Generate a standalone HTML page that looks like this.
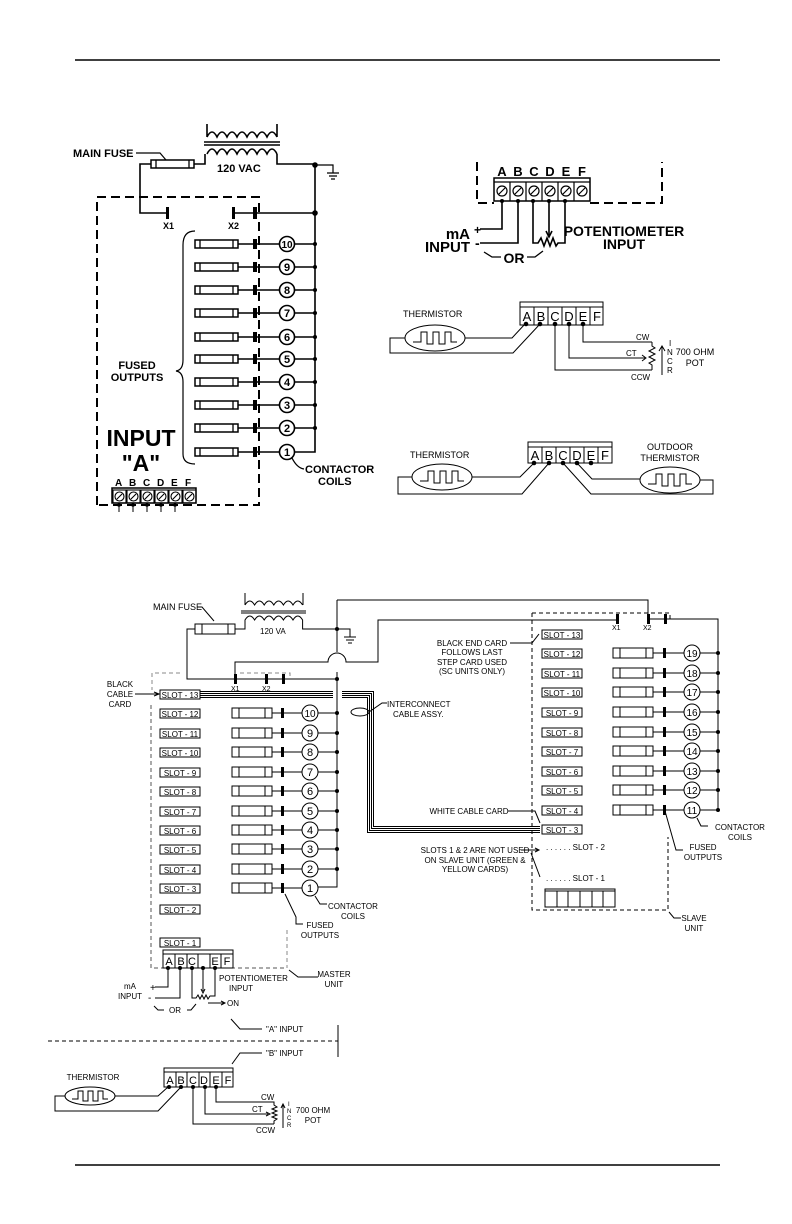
<!DOCTYPE html>
<html><head><meta charset="utf-8"><style>
html,body{margin:0;padding:0;background:#fff}
svg{display:block}
text{font-family:"Liberation Sans",sans-serif;fill:#000}
.b{font-weight:bold}
</style></head><body>
<svg width="792" height="1224" viewBox="0 0 792 1224" xmlns="http://www.w3.org/2000/svg" stroke="#000" fill="none" stroke-width="1">
<defs>
<g id="fa"><rect x="0" y="-4" width="43" height="8" fill="#fff" stroke-width="1.5"/><line x1="5" y1="-4" x2="5" y2="4" stroke-width="1.3"/><line x1="38" y1="-4" x2="38" y2="4" stroke-width="1.3"/></g>
<g id="fb"><rect x="0" y="-5" width="40" height="10" fill="#fff"/><line x1="7" y1="-5" x2="7" y2="5"/><line x1="33" y1="-5" x2="33" y2="5"/></g>
<g id="th"><ellipse cx="0" cy="0" rx="30" ry="13"/><path d="M-22 4 H-14 V-6 H-8 V6 H-2 V-6 H4 V6 H10 V-6 H16 V4 H22"/></g>
<g id="th2"><ellipse cx="0" cy="0" rx="25" ry="9"/><path d="M-18 3 H-12 V-5 H-7 V5 H-2 V-5 H3 V5 H8 V-5 H13 V3 H18"/></g>
</defs>

<line x1="75" y1="60" x2="720" y2="60" stroke-width="1.5"/>
<line x1="75" y1="1165" x2="720" y2="1165" stroke-width="1.5"/>

<!-- ===== TOP LEFT ===== -->
<g stroke-width="1.6">
<text x="73" y="157" class="b" font-size="11" stroke="none">MAIN  FUSE</text>
<path d="M136 153 H160 L166 160" stroke-width="1.2"/>
<use href="#fa" x="151" y="164"/>
<path d="M207 137 q5 -10 10 0 q5 -10 10 0 q5 -10 10 0 q5 -10 10 0 q5 -10 10 0 q5 -10 10 0 q5 -10 10 0 M207 137 V124 M277 137 V124"/>
<line x1="204" y1="142" x2="280" y2="142"/><line x1="204" y1="145" x2="280" y2="145"/>
<path d="M207 154 q5 -10 10 0 q5 -10 10 0 q5 -10 10 0 q5 -10 10 0 q5 -10 10 0 q5 -10 10 0 q5 -10 10 0"/>
<path d="M194 164 H205 V154 M277 154 V164 H315 V452 H294"/>
<text x="217" y="172" class="b" font-size="11" stroke="none">120  VAC</text>
<path d="M315 165 H333 V173 M327 173 H339 M329 176 H337 M331 179 H335" stroke-width="1.2"/>
<path d="M151 164 H140 V213 H167"/>
<rect x="166" y="207" width="3" height="12" fill="#000" stroke="none"/>
<rect x="232" y="207" width="3" height="12" fill="#000" stroke="none"/>
<rect x="253" y="207" width="4" height="12" fill="#000" stroke="none"/>
<line x1="233" y1="213" x2="315" y2="213"/>
<text x="163" y="229" class="b" font-size="9" stroke="none">X1</text>
<text x="228" y="229" class="b" font-size="9" stroke="none">X2</text>
<path d="M97 505 V197 H259 V212 M259 222 V505 H97" stroke-dasharray="9,5" stroke-width="2"/>
<circle cx="315" cy="165" r="2" fill="#000"/><circle cx="315" cy="213" r="2" fill="#000"/>
<path d="M195 231 Q183 231 183 245 V360 Q183 370 176 371 Q183 372 183 382 V454 Q183 464 195 464" stroke-width="1.2"/>
<text x="137" y="369" class="b" font-size="11" stroke="none" text-anchor="middle">FUSED</text>
<text x="137" y="381" class="b" font-size="11" stroke="none" text-anchor="middle">OUTPUTS</text>
<use href="#fa" x="195" y="244"/><use href="#fa" x="195" y="267"/><use href="#fa" x="195" y="290"/><use href="#fa" x="195" y="313"/><use href="#fa" x="195" y="337"/><use href="#fa" x="195" y="359"/><use href="#fa" x="195" y="382"/><use href="#fa" x="195" y="405"/><use href="#fa" x="195" y="428"/><use href="#fa" x="195" y="452"/>
<path d="M238 244 H280 M295 244 H315 M238 267 H280 M295 267 H315 M238 290 H280 M295 290 H315 M238 313 H280 M295 313 H315 M238 337 H280 M295 337 H315 M238 359 H280 M295 359 H315 M238 382 H280 M295 382 H315 M238 405 H280 M295 405 H315 M238 428 H280 M295 428 H315 M238 452 H280"/>
<circle cx="287" cy="244" r="7.5" fill="#fff"/><circle cx="287" cy="267" r="7.5" fill="#fff"/><circle cx="287" cy="290" r="7.5" fill="#fff"/><circle cx="287" cy="313" r="7.5" fill="#fff"/><circle cx="287" cy="337" r="7.5" fill="#fff"/><circle cx="287" cy="359" r="7.5" fill="#fff"/><circle cx="287" cy="382" r="7.5" fill="#fff"/><circle cx="287" cy="405" r="7.5" fill="#fff"/><circle cx="287" cy="428" r="7.5" fill="#fff"/><circle cx="287" cy="452" r="7.5" fill="#fff"/>
</g>
<g fill="#000" stroke="none">
<rect x="253" y="239" width="4" height="10"/><rect x="253" y="262" width="4" height="10"/><rect x="253" y="285" width="4" height="10"/><rect x="253" y="308" width="4" height="10"/><rect x="253" y="332" width="4" height="10"/><rect x="253" y="354" width="4" height="10"/><rect x="253" y="377" width="4" height="10"/><rect x="253" y="400" width="4" height="10"/><rect x="253" y="423" width="4" height="10"/><rect x="253" y="447" width="4" height="10"/>
<circle cx="315" cy="244" r="2"/><circle cx="315" cy="267" r="2"/><circle cx="315" cy="290" r="2"/><circle cx="315" cy="313" r="2"/><circle cx="315" cy="337" r="2"/><circle cx="315" cy="359" r="2"/><circle cx="315" cy="382" r="2"/><circle cx="315" cy="405" r="2"/><circle cx="315" cy="428" r="2"/>
</g>
<g class="b" font-size="11" stroke="none" text-anchor="middle">
<text x="287" y="248" font-size="10">10</text><text x="287" y="271">9</text><text x="287" y="294">8</text><text x="287" y="317">7</text><text x="287" y="341">6</text><text x="287" y="363">5</text><text x="287" y="386">4</text><text x="287" y="409">3</text><text x="287" y="432">2</text><text x="287" y="456">1</text>
</g>
<path d="M292 458 Q297 468 304 469" stroke-width="1.3"/>
<text x="305" y="473" class="b" font-size="11" stroke="none">CONTACTOR</text>
<text x="318" y="485" class="b" font-size="11" stroke="none">COILS</text>
<text x="141" y="446" class="b" font-size="23" stroke="none" text-anchor="middle">INPUT</text>
<text x="141" y="471" class="b" font-size="23" stroke="none" text-anchor="middle">"A"</text>
<rect x="112" y="488" width="84" height="15" fill="#fff" stroke-width="1.5"/>
<g class="b" font-size="10" stroke="none"><text x="115" y="486">A</text><text x="129" y="486">B</text><text x="143" y="486">C</text><text x="157" y="486">D</text><text x="171" y="486">E</text><text x="185" y="486">F</text></g>
<g stroke-width="1.1"><rect x="113" y="490" width="13" height="13"/><rect x="127" y="490" width="13" height="13"/><rect x="141" y="490" width="13" height="13"/><rect x="155" y="490" width="13" height="13"/><rect x="169" y="490" width="13" height="13"/><rect x="183" y="490" width="13" height="13"/>
<circle cx="119.5" cy="496.5" r="4.5"/><circle cx="133.5" cy="496.5" r="4.5"/><circle cx="147.5" cy="496.5" r="4.5"/><circle cx="161.5" cy="496.5" r="4.5"/><circle cx="175.5" cy="496.5" r="4.5"/><circle cx="189.5" cy="496.5" r="4.5"/>
<path d="M117 499 L122 494 M131 499 L136 494 M145 499 L150 494 M159 499 L164 494 M173 499 L178 494 M187 499 L192 494"/></g>
<path d="M119 503 V512 M133 503 V512 M147 503 V512 M161 503 V512 M175 503 V512"/>
<g fill="#000" stroke="none"><circle cx="119" cy="505" r="1.8"/><circle cx="133" cy="505" r="1.8"/><circle cx="147" cy="505" r="1.8"/><circle cx="161" cy="505" r="1.8"/><circle cx="175" cy="505" r="1.8"/></g>

<!-- ===== TOP RIGHT 1 ===== -->
<path d="M477 162 V203 H494 M590 203 H662 V162" stroke-dasharray="9,5" stroke-width="2"/>
<rect x="494" y="178" width="96" height="23" fill="#fff" stroke-width="1.5"/>
<line x1="494" y1="182" x2="590" y2="182" stroke-width="1.3"/>
<g stroke-width="1.2"><line x1="510" y1="182" x2="510" y2="201"/><line x1="526" y1="182" x2="526" y2="201"/><line x1="542" y1="182" x2="542" y2="201"/><line x1="558" y1="182" x2="558" y2="201"/><line x1="574" y1="182" x2="574" y2="201"/>
<circle cx="502" cy="191" r="5"/><circle cx="518" cy="191" r="5"/><circle cx="534" cy="191" r="5"/><circle cx="550" cy="191" r="5"/><circle cx="566" cy="191" r="5"/><circle cx="582" cy="191" r="5"/>
<path d="M499 194 L505 188 M515 194 L521 188 M531 194 L537 188 M547 194 L553 188 M563 194 L569 188 M579 194 L585 188"/></g>
<g class="b" font-size="13" stroke="none" text-anchor="middle"><text x="502" y="176">A</text><text x="518" y="176">B</text><text x="534" y="176">C</text><text x="550" y="176">D</text><text x="566" y="176">E</text><text x="582" y="176">F</text></g>
<g stroke-width="1.6">
<path d="M502 201 V229 H480 M518 201 V243 H480 M533 201 V243 H538 l3 -5 l3 8 l3 -8 l3 8 l3 -8 l3 8 l2 -3 H565 V201 M549 201 V235"/>
<path d="M546 231 L549 237 L552 231"/>
</g>
<g fill="#000" stroke="none"><circle cx="502" cy="201" r="2"/><circle cx="518" cy="201" r="2"/><circle cx="533" cy="201" r="2"/><circle cx="549" cy="201" r="2"/><circle cx="565" cy="201" r="2"/></g>
<text x="474" y="234" class="b" font-size="12" stroke="none">+</text>
<text x="475" y="248" class="b" font-size="14" stroke="none">-</text>
<text x="470" y="239" class="b" font-size="15" stroke="none" text-anchor="end">mA</text>
<text x="470" y="252" class="b" font-size="15" stroke="none" text-anchor="end">INPUT</text>
<text x="624" y="236" class="b" font-size="14" stroke="none" text-anchor="middle">POTENTIOMETER</text>
<text x="624" y="249" class="b" font-size="14" stroke="none" text-anchor="middle">INPUT</text>
<text x="514" y="263" class="b" font-size="14" stroke="none" text-anchor="middle">OR</text>
<path d="M501 257 H492 L484 252 M527 257 H535 L543 251" stroke-width="1.3"/>

<!-- ===== TOP RIGHT 2 ===== -->
<rect x="520" y="302" width="83" height="23" fill="#fff"/>
<line x1="520" y1="307" x2="603" y2="307"/>
<g><line x1="534" y1="307" x2="534" y2="325"/><line x1="548" y1="307" x2="548" y2="325"/><line x1="562" y1="307" x2="562" y2="325"/><line x1="576" y1="307" x2="576" y2="325"/><line x1="590" y1="307" x2="590" y2="325"/></g>
<g font-size="13" stroke="none" text-anchor="middle"><text x="527" y="321">A</text><text x="541" y="321">B</text><text x="555" y="321">C</text><text x="569" y="321">D</text><text x="583" y="321">E</text><text x="597" y="321">F</text></g>
<text x="403" y="317" font-size="9" stroke="none">THERMISTOR</text>
<use href="#th" x="435" y="338"/>
<path d="M465 338 H512 L525 324 M405 338 H390 V353 H513 L540 324 M555 324 V370 H652 M569 324 V358 H645 M583 324 V342 H652 M652 342 V346 l3 2 l-6 3 l6 3 l-6 3 l6 3 l-6 3 l3 2 V370"/>
<path d="M642 355 L646 358 L642 361"/>
<path d="M662 375 V346 M659 351 L662 346 L665 351"/>
<g fill="#000" stroke="none"><circle cx="526" cy="324" r="2.3"/><circle cx="540" cy="324" r="2.3"/><circle cx="555" cy="324" r="2.3"/><circle cx="569" cy="324" r="2.3"/><circle cx="583" cy="324" r="2.3"/></g>
<g font-size="8" stroke="none"><text x="636" y="340">CW</text><text x="626" y="356">CT</text><text x="631" y="380">CCW</text><text x="669" y="346">I</text><text x="667" y="355">N</text><text x="667" y="364">C</text><text x="667" y="373">R</text>
<text x="695" y="355" text-anchor="middle" font-size="9">700 OHM</text><text x="695" y="366" text-anchor="middle" font-size="9">POT</text></g>

<!-- ===== TOP RIGHT 3 ===== -->
<rect x="528" y="442" width="84" height="21" fill="#fff"/>
<line x1="528" y1="447" x2="612" y2="447"/>
<g><line x1="542" y1="447" x2="542" y2="463"/><line x1="556" y1="447" x2="556" y2="463"/><line x1="570" y1="447" x2="570" y2="463"/><line x1="584" y1="447" x2="584" y2="463"/><line x1="598" y1="447" x2="598" y2="463"/></g>
<g font-size="13" stroke="none" text-anchor="middle"><text x="535" y="460">A</text><text x="549" y="460">B</text><text x="563" y="460">C</text><text x="577" y="460">D</text><text x="591" y="460">E</text><text x="605" y="460">F</text></g>
<text x="410" y="458" font-size="9" stroke="none">THERMISTOR</text>
<use href="#th" x="442" y="477"/>
<use href="#th" x="670" y="480"/>
<text x="670" y="450" font-size="9" stroke="none" text-anchor="middle">OUTDOOR</text>
<text x="670" y="461" font-size="9" stroke="none" text-anchor="middle">THERMISTOR</text>
<path d="M472 477 H520 L534 463 M412 477 H398 V494 H522 L549 463 M563 463 L591 494 H713 V480 H700 M577 463 L592 479 H640"/>
<g fill="#000" stroke="none"><circle cx="534" cy="463" r="2.3"/><circle cx="549" cy="463" r="2.3"/><circle cx="563" cy="463" r="2.3"/><circle cx="577" cy="463" r="2.3"/><circle cx="591" cy="463" r="2.3"/></g>

<!-- ===== BOTTOM MASTER ===== -->
<text x="153" y="610" font-size="9" stroke="none">MAIN FUSE</text>
<path d="M197 607 H202 L214 621"/>
<use href="#fb" x="195" y="629"/>
<path d="M245 605 V593 M303 605 V593 M245 605 q4.8 -8 9.6 0 q4.8 -8 9.6 0 q4.8 -8 9.6 0 q4.8 -8 9.6 0 q4.8 -8 9.6 0 q4.8 -8 9.6 0"/>
<line x1="241" y1="611" x2="306" y2="611"/><line x1="241" y1="613" x2="306" y2="613"/>
<path d="M245 626 V620 q4.8 -8 9.6 0 q4.8 -8 9.6 0 q4.8 -8 9.6 0 q4.8 -8 9.6 0 q4.8 -8 9.6 0 q4.8 -8 9.6 0 V629 H337"/>
<path d="M235 629 H245 V626"/>
<text x="260" y="634" font-size="8" stroke="none">120 VA</text>
<path d="M337 629 H350 V637 M344 637 H356 M346 640 H354 M348 643 H352"/>
<path d="M195 629 H187 V679 H337"/>
<path d="M337 600 V652 M337 672 V887 H318 M337 600 H648 V619"/>
<path d="M235 679 V662 H328 A9 9 0 0 1 346 662 H378 V620 H617 V619"/>
<path d="M648 619 H718 V810 H700"/>
<rect x="234" y="674" width="3" height="10" fill="#000" stroke="none"/>
<rect x="265" y="674" width="3" height="10" fill="#000" stroke="none"/>
<rect x="282" y="674" width="3" height="10" fill="#000" stroke="none"/>
<text x="231" y="691" font-size="7" stroke="none">X1</text>
<text x="262" y="691" font-size="7" stroke="none">X2</text>
<path d="M180 673 H152 V690 M240 673 H290 V677 M287 930 V968" stroke="#888" stroke-dasharray="4,3"/>
<path d="M151 705 V968 H287" stroke="#555" stroke-dasharray="4,3"/>
<g fill="#000" stroke="none"><circle cx="337" cy="629" r="2"/><circle cx="337" cy="679" r="2"/></g>
<text x="120" y="687" font-size="8" stroke="none" text-anchor="middle">BLACK</text>
<text x="120" y="697" font-size="8" stroke="none" text-anchor="middle">CABLE</text>
<text x="120" y="707" font-size="8" stroke="none" text-anchor="middle">CARD</text>
<path d="M135 694 H158 M154 692 L159 694 L154 696"/>
<g stroke-width="1" shape-rendering="crispEdges"><path d="M200 691.5 H333 M200 693.5 H333 M200 695.5 H333 M200 697.5 H333"/>
<path d="M342 691.5 H373.5 V826.5 H540 M342 693.5 H371.5 V828.5 H540 M342 695.5 H369.5 V830.5 H540 M342 697.5 H367.5 V832.5 H540"/></g>
<ellipse cx="360" cy="712" rx="9" ry="4"/>
<path d="M369 712 L382 703 H387"/>
<text x="387" y="707" font-size="8" stroke="none">INTERCONNECT</text>
<text x="393" y="717" font-size="8" stroke="none">CABLE ASSY.</text>
<g font-size="8" stroke="none">
<g stroke="#000" fill="#fff"><rect x="160" y="690" width="40" height="9"/><rect x="160" y="709" width="40" height="9"/><rect x="160" y="729" width="40" height="9"/><rect x="160" y="748" width="40" height="9"/><rect x="160" y="768" width="40" height="9"/><rect x="160" y="787" width="40" height="9"/><rect x="160" y="807" width="40" height="9"/><rect x="160" y="826" width="40" height="9"/><rect x="160" y="845" width="40" height="9"/><rect x="160" y="865" width="40" height="9"/><rect x="160" y="884" width="40" height="9"/><rect x="160" y="905" width="40" height="9"/><rect x="160" y="938" width="40" height="9"/></g>
<g text-anchor="middle"><text x="180" y="698">SLOT - 13</text><text x="180" y="717">SLOT - 12</text><text x="180" y="737">SLOT - 11</text><text x="180" y="756">SLOT - 10</text><text x="180" y="776">SLOT - 9</text><text x="180" y="795">SLOT - 8</text><text x="180" y="815">SLOT - 7</text><text x="180" y="834">SLOT - 6</text><text x="180" y="853">SLOT - 5</text><text x="180" y="873">SLOT - 4</text><text x="180" y="892">SLOT - 3</text><text x="180" y="913">SLOT - 2</text><text x="180" y="946">SLOT - 1</text></g>
</g>
<use href="#fb" x="232" y="713"/><use href="#fb" x="232" y="733"/><use href="#fb" x="232" y="752"/><use href="#fb" x="232" y="772"/><use href="#fb" x="232" y="791"/><use href="#fb" x="232" y="811"/><use href="#fb" x="232" y="830"/><use href="#fb" x="232" y="849"/><use href="#fb" x="232" y="869"/><use href="#fb" x="232" y="888"/>
<path d="M272 713 H302 M318 713 H337 M272 733 H302 M318 733 H337 M272 752 H302 M318 752 H337 M272 772 H302 M318 772 H337 M272 791 H302 M318 791 H337 M272 811 H302 M318 811 H337 M272 830 H302 M318 830 H337 M272 849 H302 M318 849 H337 M272 869 H302 M318 869 H337 M272 888 H302"/>
<g fill="#fff"><circle cx="310" cy="713" r="8"/><circle cx="310" cy="733" r="8"/><circle cx="310" cy="752" r="8"/><circle cx="310" cy="772" r="8"/><circle cx="310" cy="791" r="8"/><circle cx="310" cy="811" r="8"/><circle cx="310" cy="830" r="8"/><circle cx="310" cy="849" r="8"/><circle cx="310" cy="869" r="8"/><circle cx="310" cy="888" r="8"/></g>
<g fill="#000" stroke="none">
<rect x="281" y="708" width="3" height="10"/><rect x="281" y="728" width="3" height="10"/><rect x="281" y="747" width="3" height="10"/><rect x="281" y="767" width="3" height="10"/><rect x="281" y="786" width="3" height="10"/><rect x="281" y="806" width="3" height="10"/><rect x="281" y="825" width="3" height="10"/><rect x="281" y="844" width="3" height="10"/><rect x="281" y="864" width="3" height="10"/><rect x="281" y="883" width="3" height="10"/>
<circle cx="337" cy="713" r="2"/><circle cx="337" cy="733" r="2"/><circle cx="337" cy="752" r="2"/><circle cx="337" cy="772" r="2"/><circle cx="337" cy="791" r="2"/><circle cx="337" cy="811" r="2"/><circle cx="337" cy="830" r="2"/><circle cx="337" cy="849" r="2"/><circle cx="337" cy="869" r="2"/>
</g>
<g font-size="11" stroke="none" text-anchor="middle"><text x="310" y="717" font-size="10">10</text><text x="310" y="737">9</text><text x="310" y="756">8</text><text x="310" y="776">7</text><text x="310" y="795">6</text><text x="310" y="815">5</text><text x="310" y="834">4</text><text x="310" y="853">3</text><text x="310" y="873">2</text><text x="310" y="892">1</text></g>
<path d="M315 896 L320 904 H327"/>
<text x="328" y="909" font-size="8" stroke="none">CONTACTOR</text>
<text x="341" y="919" font-size="8" stroke="none">COILS</text>
<path d="M285 894 L296 917 V924 H303"/>
<text x="320" y="928" font-size="8" stroke="none" text-anchor="middle">FUSED</text>
<text x="320" y="938" font-size="8" stroke="none" text-anchor="middle">OUTPUTS</text>
<path d="M289 970 L298 977 H318"/>
<text x="334" y="977" font-size="8" stroke="none" text-anchor="middle">MASTER</text>
<text x="334" y="987" font-size="8" stroke="none" text-anchor="middle">UNIT</text>
<!-- master terminal -->
<rect x="163" y="950" width="70" height="18" fill="#fff"/>
<line x1="163" y1="954" x2="233" y2="954"/>
<path d="M175 954 V968 M187 954 V968 M198 954 V968 M210 954 V968 M221 954 V968"/>
<g font-size="11" stroke="none" text-anchor="middle"><text x="169" y="965">A</text><text x="181" y="965">B</text><text x="192" y="965">C</text><text x="215" y="965">E</text><text x="227" y="965">F</text></g>
<path d="M168 968 V987 H155 M180 968 V998 H155 M192 968 V998 H196 l2 -3 l2 4 l2 -4 l2 4 l2 -4 l2 4 l2 -3 H215 V968 M203 968 V991 M201 989 L203 993 L205 989 M208 1003 H224 M221 1001 L225 1003 L221 1005"/>
<g fill="#000" stroke="none"><circle cx="168" cy="968" r="2"/><circle cx="180" cy="968" r="2"/><circle cx="192" cy="968" r="2"/><circle cx="203" cy="968" r="2"/><circle cx="215" cy="968" r="2"/></g>
<text x="150" y="991" font-size="10" stroke="none">+</text>
<text x="148" y="1001" font-size="10" stroke="none">-</text>
<text x="130" y="989" font-size="8" stroke="none" text-anchor="middle">mA</text>
<text x="130" y="999" font-size="8" stroke="none" text-anchor="middle">INPUT</text>
<text x="219" y="981" font-size="8" stroke="none">POTENTIOMETER</text>
<text x="241" y="991" font-size="8" stroke="none" text-anchor="middle">INPUT</text>
<text x="227" y="1006" font-size="8" stroke="none">ON</text>
<text x="175" y="1013" font-size="8" stroke="none" text-anchor="middle">OR</text>
<path d="M164 1010 H158 L154 1006 M187 1010 H191 L196 1004"/>
<path d="M231 1019 L240 1029 H262"/>
<text x="266" y="1032" font-size="8" stroke="none">"A" INPUT</text>
<path d="M48 1041 H338" stroke-dasharray="4,3"/>
<line x1="338" y1="1025" x2="338" y2="1057"/>
<text x="266" y="1056" font-size="8" stroke="none">"B" INPUT</text>
<path d="M262 1053 H240 L232 1064"/>
<!-- B terminal -->
<rect x="164" y="1068" width="69" height="19" fill="#fff"/>
<line x1="164" y1="1072" x2="233" y2="1072"/>
<path d="M176 1072 V1087 M187 1072 V1087 M199 1072 V1087 M210 1072 V1087 M222 1072 V1087"/>
<g font-size="11" stroke="none" text-anchor="middle"><text x="170" y="1084">A</text><text x="181" y="1084">B</text><text x="193" y="1084">C</text><text x="204" y="1084">D</text><text x="216" y="1084">E</text><text x="228" y="1084">F</text></g>
<text x="93" y="1080" font-size="8" stroke="none" text-anchor="middle">THERMISTOR</text>
<use href="#th2" x="90" y="1096"/>
<path d="M115 1096 H158 L168 1087 M65 1096 H55 V1111 H158 L181 1087 M193 1087 V1124 H274 M205 1087 V1114 H268 M216 1087 V1102 H274 V1105 l3 2 l-5 2 l5 2 l-5 2 l5 2 l-5 2 l5 2 l-3 2 V1124"/>
<path d="M266 1112 L270 1114 L266 1116"/>
<path d="M283 1128 V1104 M281 1108 L283 1104 L285 1108"/>
<g fill="#000" stroke="none"><circle cx="169" cy="1087" r="2"/><circle cx="181" cy="1087" r="2"/><circle cx="193" cy="1087" r="2"/><circle cx="205" cy="1087" r="2"/><circle cx="216" cy="1087" r="2"/></g>
<g font-size="8" stroke="none"><text x="261" y="1100">CW</text><text x="252" y="1112">CT</text><text x="256" y="1133">CCW</text>
<text x="288" y="1106" font-size="6">I</text><text x="287" y="1113" font-size="6">N</text><text x="287" y="1120" font-size="6">C</text><text x="287" y="1127" font-size="6">R</text>
<text x="313" y="1113" text-anchor="middle">700 OHM</text><text x="313" y="1123" text-anchor="middle">POT</text></g>

<!-- ===== SLAVE ===== -->
<path d="M532 613 V910 H668 V837 M532 613 H670 V619" stroke-dasharray="4,3"/>
<rect x="616" y="614" width="3" height="10" fill="#000" stroke="none"/>
<rect x="647" y="614" width="3" height="10" fill="#000" stroke="none"/>
<rect x="664" y="614" width="3" height="10" fill="#000" stroke="none"/>
<text x="612" y="630" font-size="7" stroke="none">X1</text>
<text x="643" y="630" font-size="7" stroke="none">X2</text>
<g font-size="8" stroke="none">
<g stroke="#000" fill="#fff"><rect x="542" y="630" width="40" height="9"/><rect x="542" y="649" width="40" height="9"/><rect x="542" y="669" width="40" height="9"/><rect x="542" y="688" width="40" height="9"/><rect x="542" y="708" width="40" height="9"/><rect x="542" y="728" width="40" height="9"/><rect x="542" y="747" width="40" height="9"/><rect x="542" y="767" width="40" height="9"/><rect x="542" y="786" width="40" height="9"/><rect x="542" y="806" width="40" height="9"/><rect x="542" y="825" width="40" height="9"/></g>
<g text-anchor="middle"><text x="562" y="638">SLOT - 13</text><text x="562" y="657">SLOT - 12</text><text x="562" y="677">SLOT - 11</text><text x="562" y="696">SLOT - 10</text><text x="562" y="716">SLOT - 9</text><text x="562" y="736">SLOT - 8</text><text x="562" y="755">SLOT - 7</text><text x="562" y="775">SLOT - 6</text><text x="562" y="794">SLOT - 5</text><text x="562" y="814">SLOT - 4</text><text x="562" y="833">SLOT - 3</text></g>
<text x="546" y="850">. . . . . .   SLOT - 2</text>
<text x="546" y="881">. . . . . .   SLOT - 1</text>
<g text-anchor="middle"><text x="472" y="646">BLACK END CARD</text><text x="472" y="655">FOLLOWS LAST</text><text x="472" y="665">STEP CARD USED</text><text x="472" y="674">(SC UNITS ONLY)</text>
<text x="469" y="814">WHITE CABLE CARD</text>
<text x="475" y="853">SLOTS 1 &amp; 2 ARE NOT USED</text><text x="475" y="863">ON SLAVE UNIT (GREEN &amp;</text><text x="475" y="872">YELLOW CARDS)</text>
<text x="740" y="830">CONTACTOR</text><text x="740" y="840">COILS</text>
<text x="703" y="850">FUSED</text><text x="703" y="860">OUTPUTS</text>
<text x="694" y="921">SLAVE</text><text x="694" y="931">UNIT</text></g>
</g>
<path d="M510 643 H532 L539 634 M508 811 H535 L540 823 M521 850 H538 M535 848 L539 850 L535 852 M531 853 L540 877 M665 811 L676 850 H683 M697 818 L701 826 H708 M669 912 L674 918 H681"/>
<use href="#fb" x="613" y="653"/><use href="#fb" x="613" y="673"/><use href="#fb" x="613" y="692"/><use href="#fb" x="613" y="712"/><use href="#fb" x="613" y="732"/><use href="#fb" x="613" y="751"/><use href="#fb" x="613" y="771"/><use href="#fb" x="613" y="790"/><use href="#fb" x="613" y="810"/>
<path d="M653 653 H684 M700 653 H718 M653 673 H684 M700 673 H718 M653 692 H684 M700 692 H718 M653 712 H684 M700 712 H718 M653 732 H684 M700 732 H718 M653 751 H684 M700 751 H718 M653 771 H684 M700 771 H718 M653 790 H684 M700 790 H718 M653 810 H684"/>
<g fill="#fff"><circle cx="692" cy="653" r="8"/><circle cx="692" cy="673" r="8"/><circle cx="692" cy="692" r="8"/><circle cx="692" cy="712" r="8"/><circle cx="692" cy="732" r="8"/><circle cx="692" cy="751" r="8"/><circle cx="692" cy="771" r="8"/><circle cx="692" cy="790" r="8"/><circle cx="692" cy="810" r="8"/></g>
<g fill="#000" stroke="none">
<rect x="663" y="648" width="3" height="10"/><rect x="663" y="668" width="3" height="10"/><rect x="663" y="687" width="3" height="10"/><rect x="663" y="707" width="3" height="10"/><rect x="663" y="727" width="3" height="10"/><rect x="663" y="746" width="3" height="10"/><rect x="663" y="766" width="3" height="10"/><rect x="663" y="785" width="3" height="10"/><rect x="663" y="805" width="3" height="10"/>
<circle cx="718" cy="653" r="2"/><circle cx="718" cy="673" r="2"/><circle cx="718" cy="692" r="2"/><circle cx="718" cy="712" r="2"/><circle cx="718" cy="732" r="2"/><circle cx="718" cy="751" r="2"/><circle cx="718" cy="771" r="2"/><circle cx="718" cy="790" r="2"/><circle cx="718" cy="810" r="2"/>
</g>
<g font-size="10" stroke="none" text-anchor="middle"><text x="692" y="657">19</text><text x="692" y="677">18</text><text x="692" y="696">17</text><text x="692" y="716">16</text><text x="692" y="736">15</text><text x="692" y="755">14</text><text x="692" y="775">13</text><text x="692" y="794">12</text><text x="692" y="814">11</text></g>
<rect x="545" y="889" width="70" height="18"/>
<line x1="545" y1="891" x2="615" y2="891"/>
<path d="M557 891 V907 M568 891 V907 M580 891 V907 M592 891 V907 M603 891 V907"/>
</svg>
</body></html>
